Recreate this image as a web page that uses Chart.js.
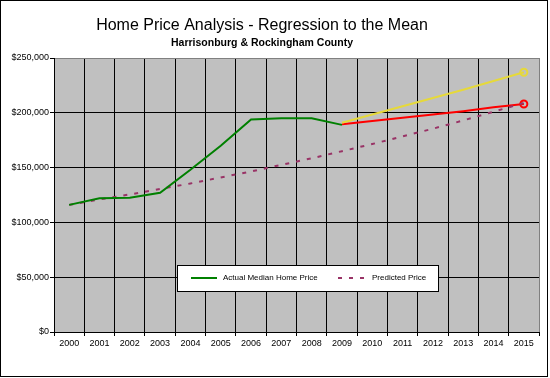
<!DOCTYPE html>
<html>
<head>
<meta charset="utf-8">
<script src="https://cdn.jsdelivr.net/npm/chart.js@4"></script>
<style>
  html, body { margin: 0; padding: 0; background: #fff; }
</style>
</head>
<body>
<canvas id="priceChart" width="550" height="378"></canvas>
<script>
// Data
const years = ['2000', '2001', '2002', '2003', '2004', '2005', '2006', '2007',
               '2008', '2009', '2010', '2011', '2012', '2013', '2014', '2015'];
const actualPrice = [116000, 122000, 122500, 127000, 148000, 170000, 194000, 195000,
                     195000, 189000, null, null, null, null, null, null];
const predictedPrice = [116000, 121000, 125500, 130500, 135500, 141000, 146500, 152500,
                        158500, 165000, 171500, 178500, 185500, 193000, 201000, 209000];
const highProjection = [null, null, null, null, null, null, null, null,
                        null, 191000, 198500, 206000, 213500, 221000, 229000, 237000];
const lowProjection = [null, null, null, null, null, null, null, null,
                       null, 189500, 192500, 195500, 198500, 201500, 205000, 208000];
const yTicks = [0, 50000, 100000, 150000, 200000, 250000];

const FONT = 'Arial, "Liberation Sans", sans-serif';
const lastIndex = years.length - 1;

// white page, gray plot area, outer black frame
const backgroundPlugin = {
    id: 'background',
    beforeDraw(chart) {
        const { ctx, chartArea } = chart;
        ctx.save();
        ctx.fillStyle = '#fff';
        ctx.fillRect(0, 0, chart.width, chart.height);
        ctx.fillStyle = '#C0C0C0';
        ctx.fillRect(chartArea.left, chartArea.top,
                     chartArea.right - chartArea.left, chartArea.bottom - chartArea.top);
        ctx.restore();
    },
    afterDraw(chart) {
        const ctx = chart.ctx;
        ctx.save();
        ctx.strokeStyle = '#000';
        ctx.lineWidth = 1;
        ctx.strokeRect(0.5, 0.5, chart.width - 3, chart.height - 2);
        ctx.restore();
    }
};

// title + subtitle, centred over the plot like the original
const titlePlugin = {
    id: 'titles',
    afterDraw(chart) {
        const ctx = chart.ctx;
        ctx.save();
        ctx.fillStyle = '#000';
        ctx.textAlign = 'center';
        ctx.textBaseline = 'alphabetic';
        ctx.font = '16px ' + FONT;
        ctx.fillText('Home Price Analysis - Regression to the Mean', 262, 30);
        ctx.font = 'bold 10.5px ' + FONT;
        ctx.fillText('Harrisonburg & Rockingham County', 262, 46);
        ctx.restore();
    }
};

// boxed legend inside the plot, only for the first two series
const legendPlugin = {
    id: 'boxLegend',
    afterDatasetsDraw(chart) {
        const ctx = chart.ctx;
        const box = { x: 177, y: 265, w: 261, h: 26 };
        const midY = box.y + box.h / 2;
        ctx.save();
        ctx.fillStyle = '#fff';
        ctx.fillRect(box.x, box.y, box.w, box.h);
        ctx.strokeStyle = '#000';
        ctx.lineWidth = 1;
        ctx.strokeRect(box.x + 0.5, box.y + 0.5, box.w, box.h);

        const items = [
            { ds: chart.data.datasets[0], x0: 191, x1: 217 },
            { ds: chart.data.datasets[1], x0: 338, x1: 366 }
        ];
        ctx.font = '8px ' + FONT;
        ctx.textBaseline = 'middle';
        ctx.textAlign = 'left';
        items.forEach(item => {
            ctx.strokeStyle = item.ds.borderColor;
            ctx.lineWidth = item.ds.borderWidth;
            ctx.setLineDash(item.ds.borderDash || []);
            ctx.beginPath();
            ctx.moveTo(item.x0, midY);
            ctx.lineTo(item.x1, midY);
            ctx.stroke();
            ctx.setLineDash([]);
            ctx.fillStyle = '#000';
            ctx.fillText(item.ds.label, item.x1 + 6, midY);
        });
        ctx.restore();
    }
};

const endMarker = ctx => (ctx.dataIndex === lastIndex ? 3.5 : 0);

new Chart(document.getElementById('priceChart'), {
    type: 'line',
    data: {
        labels: years,
        datasets: [
            {
                label: 'Actual Median Home Price',
                data: actualPrice,
                borderColor: '#008000',
                borderWidth: 2,
                pointRadius: 0,
                tension: 0
            },
            {
                label: 'Predicted Price',
                data: predictedPrice,
                borderColor: '#993366',
                borderWidth: 2,
                borderDash: [4, 7],
                pointRadius: 0,
                tension: 0
            },
            {
                label: 'High',
                data: highProjection,
                borderColor: '#E6D93A',
                borderWidth: 2,
                pointRadius: endMarker,
                pointBorderWidth: 2,
                pointBorderColor: '#E6D93A',
                pointBackgroundColor: 'rgba(0,0,0,0)',
                tension: 0
            },
            {
                label: 'Low',
                data: lowProjection,
                borderColor: '#FF0000',
                borderWidth: 2,
                pointRadius: endMarker,
                pointBorderWidth: 2,
                pointBorderColor: '#FF0000',
                pointBackgroundColor: 'rgba(0,0,0,0)',
                tension: 0
            }
        ]
    },
    options: {
        responsive: false,
        animation: false,
        devicePixelRatio: 1,
        layout: {
            padding: { top: 58, left: 0, right: 11, bottom: 0 }
        },
        plugins: {
            legend: { display: false },
            title: { display: false },
            tooltip: { enabled: false }
        },
        scales: {
            x: {
                offset: true,
                afterFit(scale) { scale.height = 46; },
                grid: {
                    offset: true,
                    color: ctx => (ctx.index === undefined ? '#808080' : '#000'),
                    tickColor: '#000',
                    tickLength: 4,
                    lineWidth: 1
                },
                border: { color: '#000', width: 1 },
                ticks: {
                    color: '#000',
                    font: { family: FONT, size: 9 },
                    padding: 2,
                    maxRotation: 0,
                    autoSkip: false
                }
            },
            y: {
                min: yTicks[0],
                max: yTicks[yTicks.length - 1],
                afterFit(scale) { scale.width = 54; },
                afterBuildTicks(scale) {
                    scale.ticks = yTicks.map(v => ({ value: v }));
                },
                grid: {
                    color: ctx => (ctx.tick && ctx.tick.value === 250000 ? '#808080' : '#000'),
                    tickColor: '#000',
                    tickLength: 4,
                    lineWidth: 1
                },
                border: { color: '#000', width: 1 },
                ticks: {
                    color: '#000',
                    font: { family: FONT, size: 9 },
                    padding: 1,
                    callback: v => '$' + Number(v).toLocaleString('en-US')
                }
            }
        }
    },
    plugins: [backgroundPlugin, titlePlugin, legendPlugin]
});
</script>
</body>
</html>
